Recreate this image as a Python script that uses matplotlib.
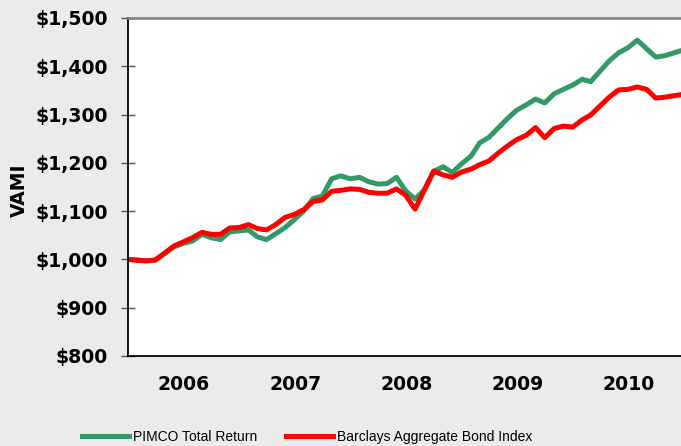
import pandas as pd
import matplotlib.pyplot as plt
import matplotlib.dates as mdates

# Monthly VAMI, growth of $1,000 from end of 2005
months = pd.date_range('2005-12-31', periods=61, freq='ME')
pimco = [1000, 999, 997, 998, 1012, 1026, 1033, 1038, 1052, 1045, 1041, 1057,
         1059, 1061, 1047, 1041, 1053, 1066, 1082, 1100, 1126, 1131, 1167, 1173,
         1167, 1170, 1161, 1156, 1157, 1170, 1142, 1125, 1144, 1182, 1192, 1180,
         1198, 1214, 1241, 1253, 1272, 1292, 1309, 1320, 1332, 1324, 1343, 1352,
         1361, 1373, 1368, 1390, 1411, 1428, 1438, 1454, 1436, 1419, 1422, 1428,
         1434]
barclays = [1000, 998, 997, 999, 1013, 1028, 1036, 1045, 1056, 1052, 1052, 1065,
            1066, 1072, 1064, 1061, 1072, 1087, 1093, 1103, 1120, 1123, 1141, 1143,
            1146, 1145, 1139, 1137, 1137, 1146, 1133, 1104, 1144, 1183, 1175, 1170,
            1181, 1187, 1196, 1204, 1220, 1235, 1248, 1257, 1273, 1252, 1271, 1276,
            1274, 1289, 1299, 1318, 1336, 1351, 1352, 1357, 1352, 1334, 1336, 1339,
            1342]
years = [2006, 2007, 2008, 2009, 2010]
y_ticks = [800, 900, 1000, 1100, 1200, 1300, 1400, 1500]

fig = plt.figure(figsize=(6.81, 4.46), dpi=100, facecolor='#ebebeb')
ax = fig.add_axes([0.188, 0.2018, 0.830, 0.758])
ax.set_facecolor('white')

ax.plot(months, pimco, color='#339966', linewidth=3.6, label='PIMCO Total Return')
ax.plot(months, barclays, color='#ff0000', linewidth=3.6, label='Barclays Aggregate Bond Index')

ax.set_xlim(pd.Timestamp('2005-12-31'), pd.Timestamp('2011-01-31'))
ax.set_ylim(800, 1500)

ax.set_yticks(y_ticks)
ax.set_yticklabels(['${:,}'.format(v) for v in y_ticks], fontsize=13.6, fontweight='bold')
ax.set_xticks([pd.Timestamp(f'{y}-07-03') for y in years])
ax.set_xticklabels([str(y) for y in years], fontsize=13.6, fontweight='bold')
ax.tick_params(axis='y', direction='inout', length=10, width=1, color='#555555', pad=9.4)
ax.tick_params(axis='x', length=0, pad=14)

for side in ['left', 'bottom']:
    ax.spines[side].set_color('black')
    ax.spines[side].set_linewidth(1.3)
ax.spines['top'].set_color('#808080')
ax.spines['top'].set_linewidth(1.8)
ax.spines['right'].set_visible(False)

fig.text(19 / 681, 1 - 190 / 446, 'VAMI', rotation=90, fontsize=13.5, fontweight='bold',
         ha='center', va='center')

fig.legend(loc='center', bbox_to_anchor=(307 / 681, 1 - 437 / 446), ncol=2, frameon=False,
           prop={'family': 'Liberation Sans', 'size': 10}, handlelength=3.4,
           handletextpad=0.25, columnspacing=2.1, borderpad=0)

plt.savefig('out.png', dpi=100, facecolor=fig.get_facecolor())
